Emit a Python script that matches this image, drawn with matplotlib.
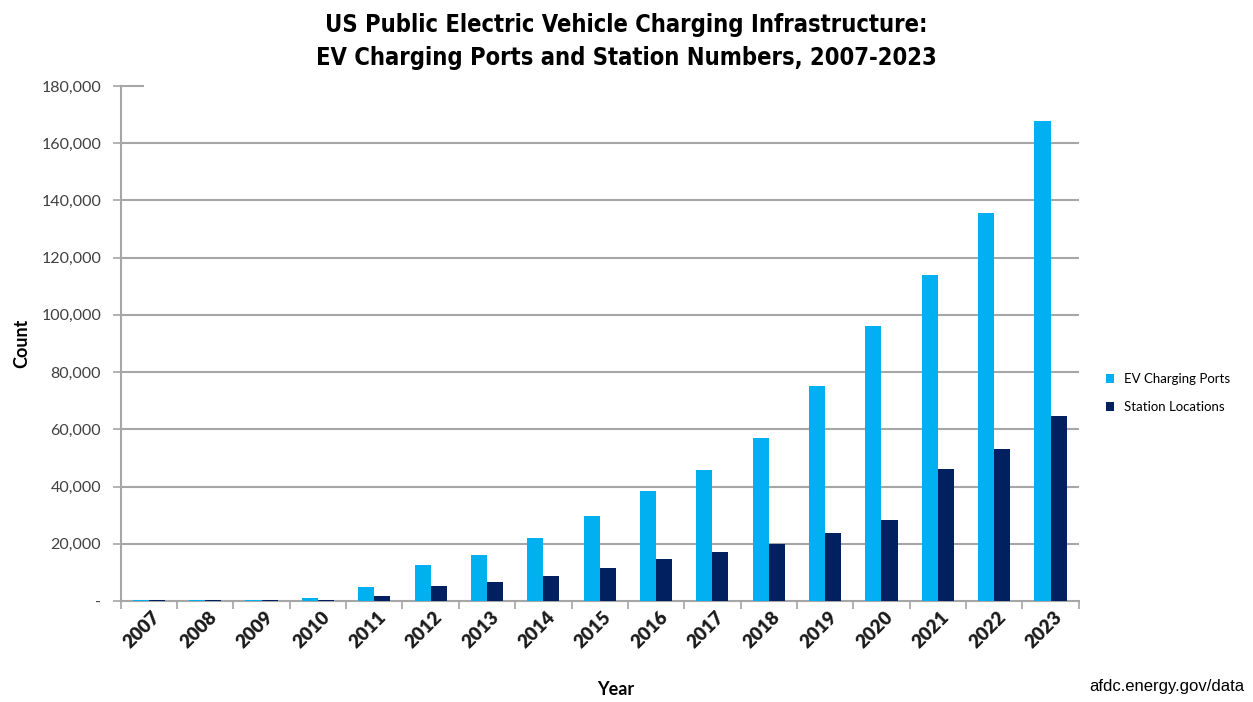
import matplotlib
matplotlib.use('Agg')
import matplotlib.pyplot as plt
import matplotlib.ticker as mticker
import matplotlib.transforms as mtrans
import numpy as np

years = ['2007', '2008', '2009', '2010', '2011', '2012', '2013', '2014', '2015',
         '2016', '2017', '2018', '2019', '2020', '2021', '2022', '2023']
ports = [450, 450, 450, 900, 5000, 12600, 16200, 21900, 29700,
         38300, 45900, 57100, 75300, 96100, 114100, 135700, 167800]
stations = [400, 400, 400, 450, 1800, 5300, 6600, 8800, 11600,
            14800, 17000, 19800, 23800, 28300, 46300, 53100, 64500]

c_ports = '#00B0F0'
c_stations = '#002060'
grid_c = '#A6A6A6'

plt.rcParams['font.family'] = ['Lato', 'DejaVu Sans']

fig = plt.figure(figsize=(12.53, 7.02), dpi=100)
ax = fig.add_axes([0.0963, 0.1439, 0.7646, 0.7336])

x = np.arange(len(years))
w = 0.285
ax.bar(x - w / 2, ports, w, color=c_ports, label='EV Charging Ports', zorder=3)
ax.bar(x + w / 2, stations, w, color=c_stations, label='Station Locations', zorder=3)

ax.set_xlim(-0.5, len(years) - 0.5)
ax.set_ylim(0, 180000)
ax.set_yticks(np.arange(0, 180001, 20000))
ax.yaxis.set_major_formatter(mticker.FuncFormatter(lambda v, p: '-' if v == 0 else f'{int(v):,}'))

# gridlines (Excel leaves the top one as a stub)
for v in range(20000, 180000, 20000):
    ax.axhline(v, color=grid_c, lw=1.5, zorder=1)
ax.axhline(180000, xmin=0, xmax=0.023, color=grid_c, lw=1.5, clip_on=False)

for s in ['top', 'right']:
    ax.spines[s].set_visible(False)
for s in ['left', 'bottom']:
    ax.spines[s].set_color(grid_c)
    ax.spines[s].set_linewidth(1.5)

ax.set_xticks(np.arange(-0.5, len(years), 1.0), minor=False)
ax.set_xticklabels([])
ax.set_xticks(x, minor=True)
ax.set_xticklabels(years, minor=True, rotation=45, ha='right', rotation_mode='anchor',
                   fontsize=13.5, fontweight='heavy', color='#1a1a1a')
ax.tick_params(axis='x', which='minor', length=0, pad=5)
ax.tick_params(axis='x', which='major', length=6, width=1.2, color=grid_c)
ax.tick_params(axis='y', length=6, width=1.2, color=grid_c, labelsize=11.5,
               labelcolor='#404040', pad=8)
shift = mtrans.ScaledTranslation(0.03, 0, fig.dpi_scale_trans)
for lab in ax.get_xticklabels(minor=True):
    lab.set_transform(lab.get_transform() + shift)

ax.set_ylabel('Count', fontsize=13, fontweight='bold', labelpad=8)
fig.text(0.491, 0.005, 'Year', fontsize=13, fontweight='bold', ha='center', va='bottom')

fig.legend(loc='center left', bbox_to_anchor=(0.873, 0.44), frameon=False,
           fontsize=9.5, handlelength=0.6, handleheight=0.6, labelspacing=1.2,
           handletextpad=0.8)

fig.text(0.5, 0.941, 'US Public Electric Vehicle Charging Infrastructure:\n'
         'EV Charging Ports and Station Numbers, 2007-2023',
         ha='center', va='center', fontsize=17, fontweight='bold', fontstretch='condensed',
         family=['DejaVu Sans'], linespacing=1.5)

fig.text(0.993, 0.012, 'afdc.energy.gov/data', fontsize=12, ha='right', va='bottom',
         family=['Liberation Sans', 'DejaVu Sans'])

fig.savefig('out.png', dpi=100)
